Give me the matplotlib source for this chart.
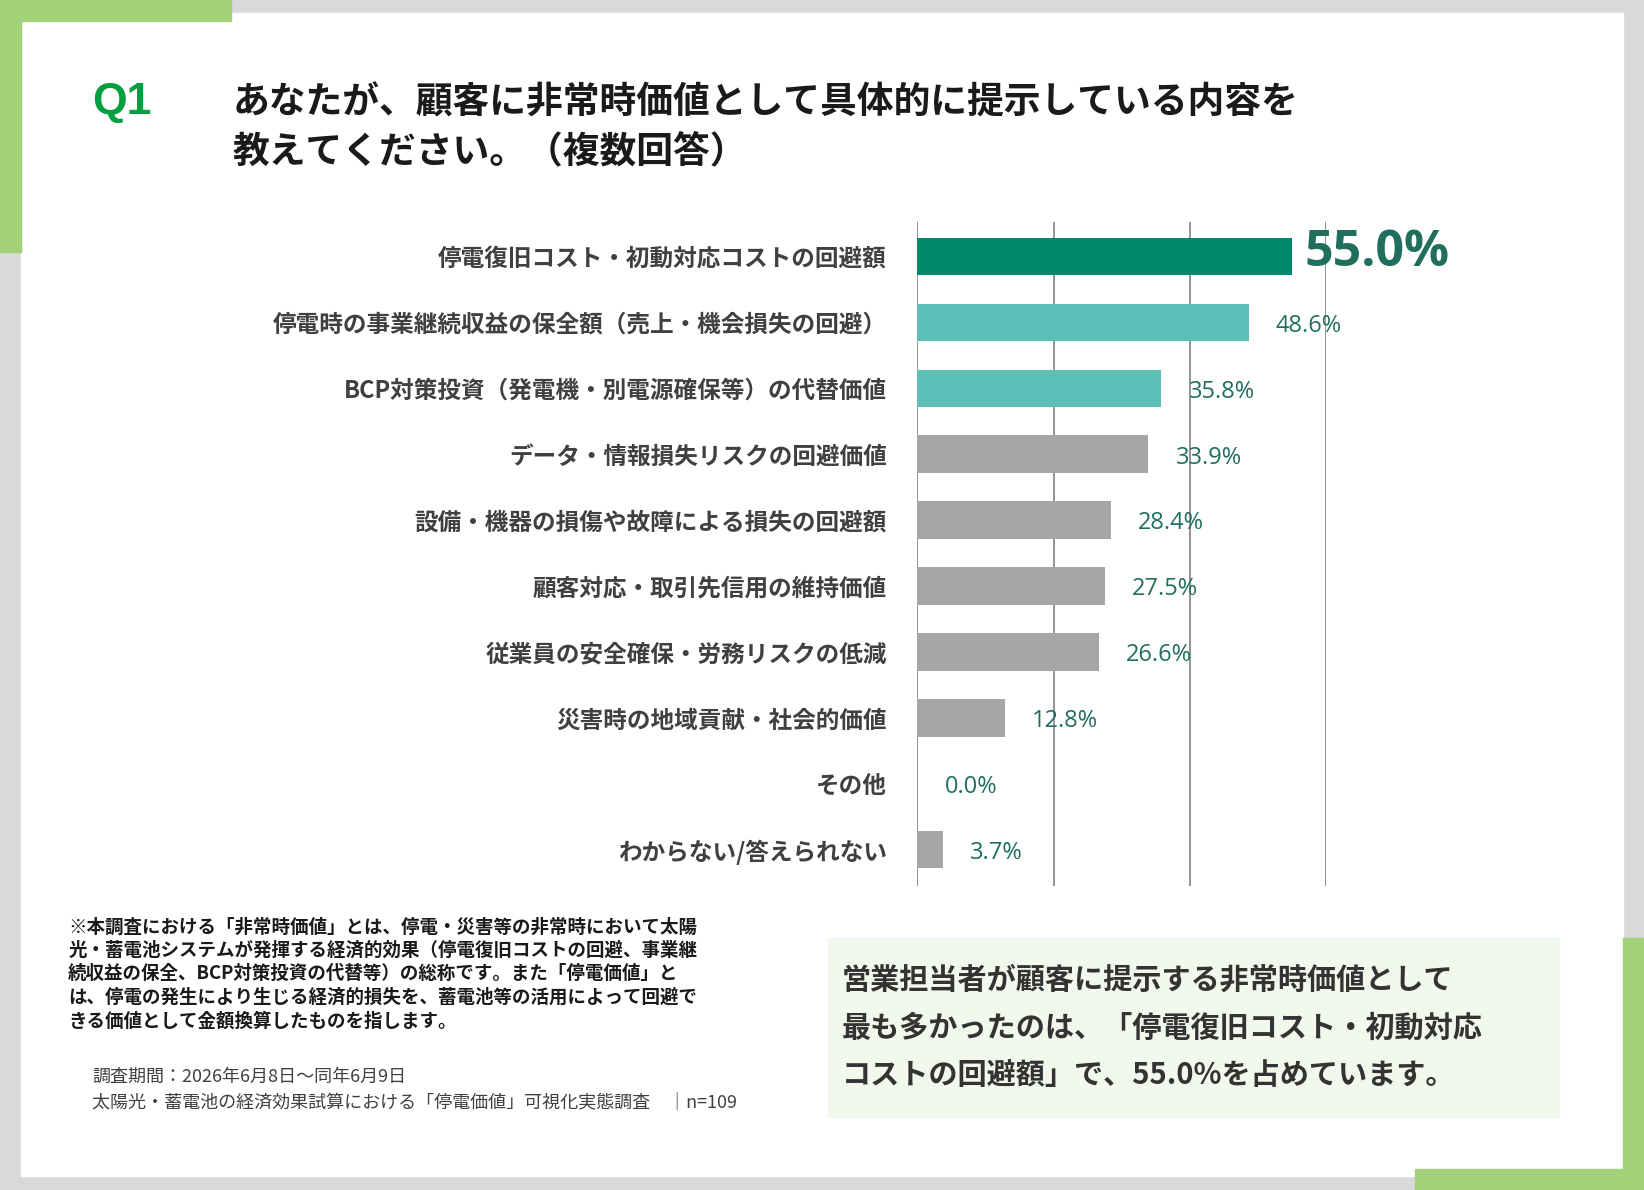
import matplotlib.pyplot as plt
from matplotlib.patches import Rectangle

plt.rcParams['font.family'] = ['Noto Sans CJK JP', 'DejaVu Sans']

categories = ['停電復旧コスト・初動対応コストの回避額',
              '停電時の事業継続収益の保全額（売上・機会損失の回避）',
              'BCP対策投資（発電機・別電源確保等）の代替価値',
              'データ・情報損失リスクの回避価値',
              '設備・機器の損傷や故障による損失の回避額',
              '顧客対応・取引先信用の維持価値',
              '従業員の安全確保・労務リスクの低減',
              '災害時の地域貢献・社会的価値',
              'その他',
              'わからない/答えられない']
values = [55.0, 48.6, 35.8, 33.9, 28.4, 27.5, 26.6, 12.8, 0.0, 3.7]
colors = ['#00876c', '#5bbfb5', '#5bbfb5'] + ['#a6a6a6'] * 7

W, H = 1568, 1135
fig = plt.figure(figsize=(16.44, 11.90), dpi=100)
fig.patch.set_facecolor('#d9d9d9')

def rect(x, y, w, h, c):
    fig.patches.append(Rectangle((x / W, 1 - (y + h) / H), w / W, h / H,
                                 transform=fig.transFigure, color=c, zorder=-5))

rect(20, 12, 1528, 1110, 'white')
rect(0, 0, 220, 20, '#a3d17a')
rect(0, 0, 20, 240, '#a3d17a')
rect(1350, 1115, 218, 20, '#a3d17a')
rect(1548, 895, 20, 240, '#a3d17a')
rect(790, 895, 697, 170, '#f2f8ec')

def ftext(x, y, s, **kw):
    fig.text(x / W, 1 - y / H, s, **kw)

ftext(88, 98, 'Q1', color='#00a040', fontsize=32, weight='bold', va='center', family=['Liberation Sans'])
ftext(222, 98, 'あなたが、顧客に非常時価値として具体的に提示している内容を', fontsize=26.5, weight='bold', va='center', color='#1a1a1a')
ftext(222, 145, '教えてください。（複数回答）', fontsize=26.5, weight='bold', va='center', color='#1a1a1a')

ax = fig.add_axes([875 / W, 1 - 845 / H, 390 / W, 633 / H])
ax.set_zorder(5)
ax.patch.set_alpha(0)
y = list(range(len(categories)))
ax.barh(y, values, height=0.57, color=colors, zorder=2)
ax.set_xlim(0, 60)
ax.set_ylim(9.55, -0.52)
ax.set_xticks([0, 20, 40, 60])
ax.xaxis.grid(True, color='#808080', linewidth=1.2)
ax.set_axisbelow(True)
ax.tick_params(length=0, labelbottom=False)
ax.set_yticks(y)
ax.set_yticklabels(categories, fontsize=17, weight='bold', color='#404040')
ax.tick_params(axis='y', pad=22)
for s in ax.spines.values():
    s.set_visible(False)
for i, v in enumerate(values):
    if i == 0:
        ax.text(v + 1.8, i - 0.05, f'{v:.1f}%', fontsize=36, weight='bold', color='#1f6e5e',
                va='center', family=['Open Sans'], clip_on=False, zorder=4)
    else:
        ax.text(v + 4, i + 0.05, f'{v:.1f}%', fontsize=17, color='#1f6e5e',
                va='center', family=['Open Sans'], clip_on=False, zorder=4)

note = ('※本調査における「非常時価値」とは、停電・災害等の非常時において太陽\n'
        '光・蓄電池システムが発揮する経済的効果（停電復旧コストの回避、事業継\n'
        '続収益の保全、BCP対策投資の代替等）の総称です。また「停電価値」と\n'
        'は、停電の発生により生じる経済的損失を、蓄電池等の活用によって回避で\n'
        'きる価値として金額換算したものを指します。')
ftext(65, 875, note, fontsize=13.3, weight='bold', va='top', linespacing=1.3, color='#1a1a1a')
ftext(88, 1027, '調査期間：2026年6月8日～同年6月9日', fontsize=13, va='center', color='#404040')
ftext(88, 1052, '太陽光・蓄電池の経済効果試算における「停電価値」可視化実態調査　│n=109',
      fontsize=13, va='center', color='#404040')

box = ('営業担当者が顧客に提示する非常時価値として\n'
       '最も多かったのは、「停電復旧コスト・初動対応\n'
       'コストの回避額」で、55.0%を占めています。')
ftext(803, 980, box, fontsize=21, weight='bold', va='center', linespacing=1.75, color='#333333')

fig.savefig('out.png', dpi=100, facecolor=fig.get_facecolor())
